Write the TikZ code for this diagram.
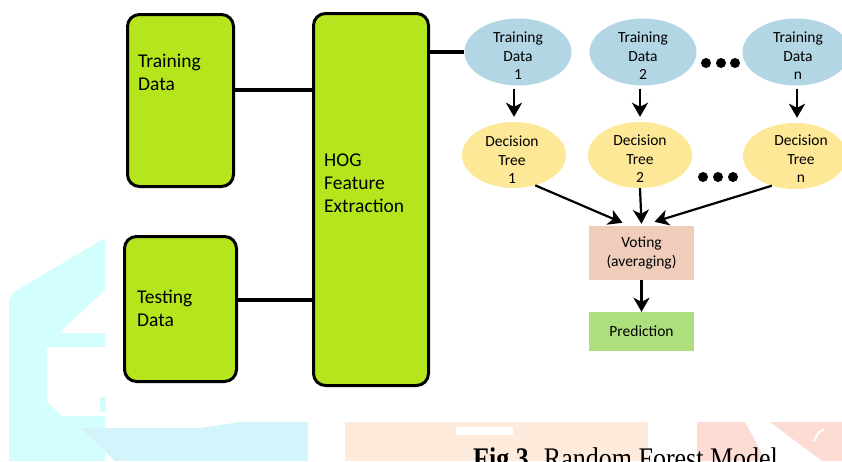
\documentclass[tikz,border=0pt]{standalone}
\usepackage{fontspec}
\setmainfont{Carlito}
\newfontfamily\capfont{Liberation Serif}
\usetikzlibrary{arrows.meta,calc,shapes.geometric}

\definecolor{boxgreen}{HTML}{B5E61D}
\definecolor{dataBlue}{HTML}{B3D6E5}
\definecolor{treeYellow}{HTML}{FCE897}
\definecolor{votePeach}{HTML}{EFCDBA}
\definecolor{predGreen}{HTML}{ADE07D}
\definecolor{wmCyan}{HTML}{D3FEFE}
\definecolor{wmBand}{HTML}{D4F4FC}
\definecolor{wmPeach}{HTML}{FEEBDC}
\definecolor{wmPink}{HTML}{FDDCD4}

\begin{document}
\begin{tikzpicture}[x=1pt,y=-1pt,
  gbox/.style={draw=black, line width=3pt, fill=boxgreen, rounded corners=12pt, inner sep=0pt},
  boxtext/.style={inner sep=0pt, align=left, font=\fontsize{19.5}{23}\selectfont},
  ovaltext/.style={inner sep=0pt, align=center, font=\fontsize{15.5}{18.5}\selectfont},
  datanode/.style={ellipse, fill=dataBlue, inner sep=0pt, minimum width=107, minimum height=67},
  treenode/.style={ellipse, fill=treeYellow, inner sep=0pt, minimum width=104, minimum height=66},
  flatbox/.style={inner sep=0pt, minimum width=105, align=center, font=\fontsize{15.5}{19}\selectfont},
  dotnode/.style={circle, fill=black, inner sep=0pt, minimum size=10pt},
  link/.style={draw=black, line width=3.5pt},
  arr/.style={draw=black, line width=2.2pt, -{Stealth[length=14pt, width=16pt, inset=4pt]}}
]
\useasboundingbox (0,0) rectangle (842,461);
\fill[white] (0,0) rectangle (842,461);

% faint background emblem
\fill[wmCyan] (9,461) -- (9,300) -- (14,292) -- (105,238) -- (105,290) -- (62,330) -- (62,333)
  -- (105,333) -- (105,347) -- (47,347) -- (47,402) -- (62,416) -- (105,416) -- (105,461) -- cycle;
\fill[wmCyan] (100,397) rectangle (106,412);
\fill[wmBand] (80,428) -- (200,428) -- (240,422) -- (308,422) -- (308,461) -- (115,461) -- cycle;
\fill[wmPeach] (345,422) -- (648,422) -- (648,461) -- (345,461) -- cycle;
\fill[white] (456,427) rectangle (513,435);
\fill[wmPink] (697,422) -- (745,422) -- (766,461) -- (697,461) -- cycle;
\fill[wmPink] (770,422) -- (842,422) -- (842,461) -- (822,461) -- cycle;
\draw[white, line width=2pt] (814,441) -- (818,433) -- (824,429);

% input and feature-extraction blocks
\node[gbox, minimum width=106, minimum height=172] (trainbox) at (180.5,100.5) {};
\node[gbox, minimum width=112, minimum height=145] (testbox) at (180.5,309) {};
\node[gbox, minimum width=115, minimum height=372] (hog) at (371,199.5) {};

% (base anchor of a multi-line node sits on its last line)
\node[boxtext, anchor=base west] (traintxt) at (138,90) {Training\\Data};
\node[boxtext, anchor=base west] (testtxt) at (137,326) {Testing\\Data};
\node[boxtext, anchor=base west] (hogtxt) at (324,212) {HOG\\Feature\\Extraction};

% bootstrap samples
\node[datanode] (td1) at (518,52) {};
\node[datanode] (td2) at (643,52) {};
\node[datanode] (tdn) at (796,52) {};
\node[ovaltext] (td1txt) at (518,56) {Training\\Data\\1};
\node[ovaltext] (td2txt) at (643,56) {Training\\Data\\2};
\node[ovaltext] (tdntxt) at (798,56) {Training\\Data\\n};

% trees
\node[treenode] (dt1) at (514,155) {};
\node[treenode] (dt2) at (640,155) {};
\node[treenode] (dtn) at (795,156) {};
\node[ovaltext] (dt1txt) at (512,160) {Decision\\Tree\\1};
\node[ovaltext] (dt2txt) at (640,159) {Decision\\Tree\\2};
\node[ovaltext] (dtntxt) at (801,159) {Decision\\Tree\\n};

% ellipsis dots
\node[dotnode] (da1) at (706,63) {};
\node[dotnode] (da2) at (721,63) {};
\node[dotnode] (da3) at (735,63) {};
\node[dotnode] (db1) at (703,177) {};
\node[dotnode] (db2) at (718,177) {};
\node[dotnode] (db3) at (733,177) {};

% aggregation
\node[flatbox, fill=votePeach, minimum height=54] (vote) at (641.5,253) {Voting\\(averaging)};
\node[flatbox, fill=predGreen, minimum height=39] (pred) at (641.5,331.5) {Prediction};

% connectors
\coordinate (ytrain) at (0,90);
\coordinate (ytest) at (0,300);
\coordinate (xn) at (797,0);
\draw[link] (trainbox.east |- ytrain) -- (hog.west |- ytrain);
\draw[link] (testbox.east |- ytest) -- (hog.west |- ytest);
\draw[link] (hog.east |- td1.west) -- (td1.west);

\draw[arr, shorten <=3pt, shorten >=5pt] (td1.south -| dt1.north) -- (dt1.north);
\draw[arr, shorten <=3pt, shorten >=5pt] (td2.south -| dt2.north) -- (dt2.north);
\draw[arr, shorten <=3pt, shorten >=5pt] (tdn.south -| xn) -- (dtn.north -| xn);

\draw[arr] (dt1.-55) -- ($(vote.north)+(-19,-3)$);
\draw[arr] (dt2.south) -- ($(vote.north)+(0,-2)$);
\draw[arr] (dtn.-128) -- ($(vote.north)+(13,-4)$);
\draw[arr] (vote.south) -- (pred.north);

% caption
\node[anchor=base west, inner sep=0pt, font=\capfont\fontsize{26}{30}\selectfont] (caption) at (473,468)
  {\scalebox{1}[1.15]{\textbf{Fig.3}. Random Forest Model}};
\end{tikzpicture}
\end{document}
